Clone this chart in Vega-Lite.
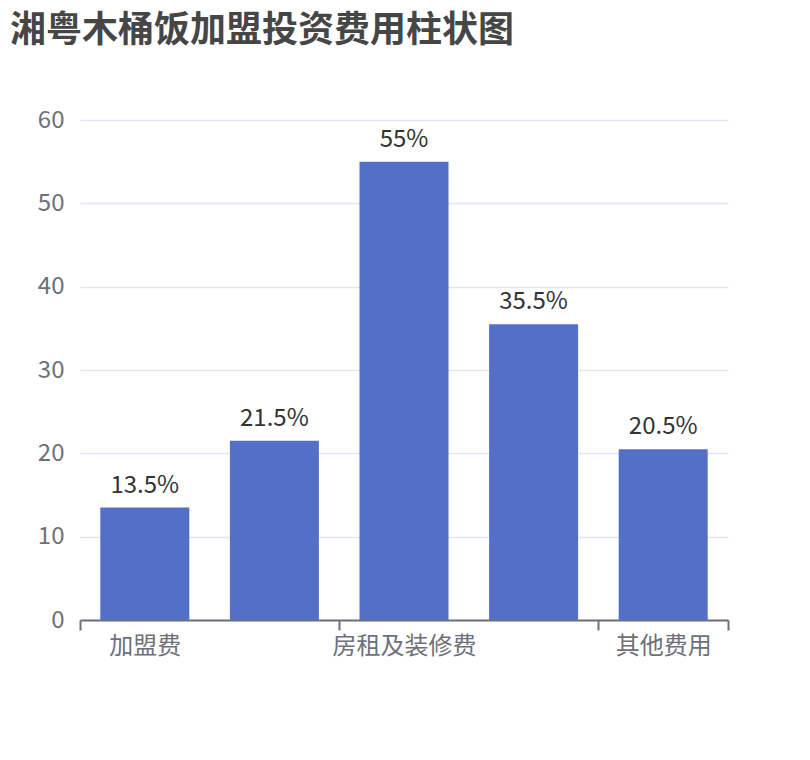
{
  "$schema": "https://vega.github.io/schema/vega-lite/v6.json",
  "autosize": "none",
  "width": 648,
  "height": 500,
  "padding": {"left": 80, "top": 120, "right": 82, "bottom": 140},
  "title": {
    "text": "湘粤木桶饭加盟投资费用柱状图",
    "anchor": "start",
    "frame": "group",
    "dx": -70,
    "offset": 58,
    "font": "Noto Sans CJK SC",
    "fontSize": 36,
    "fontWeight": "bold",
    "color": "#464646"
  },
  "config": {
    "view": {"stroke": null},
    "font": "Noto Sans CJK SC"
  },
  "data": {
    "values": [
      {"idx": 0, "item": "加盟费", "value": 13.5},
      {"idx": 1, "item": "设备费用", "value": 21.5},
      {"idx": 2, "item": "房租及装修费", "value": 55},
      {"idx": 3, "item": "人员工资", "value": 35.5},
      {"idx": 4, "item": "其他费用", "value": 20.5}
    ]
  },
  "transform": [
    {"calculate": "datum.value + '%'", "as": "label"}
  ],
  "encoding": {
    "x": {
      "field": "idx",
      "type": "quantitative",
      "scale": {"domain": [-0.5, 4.5], "nice": false, "zero": false, "padding": 0},
      "axis": {
        "title": null,
        "grid": false,
        "values": [-0.5, 1.5, 3.5, 4.5],
        "labelExpr": "datum.value == -0.5 ? '加盟费' : datum.value == 1.5 ? '房租及装修费' : datum.value == 3.5 ? '其他费用' : ''",
        "labelOffset": 64.8,
        "labelFlush": false,
        "labelOverlap": false,
        "labelFontSize": 24,
        "labelColor": "#6e7079",
        "labelPadding": 4,
        "domainColor": "#6e7079",
        "domainWidth": 2,
        "tickColor": "#6e7079",
        "tickWidth": 2,
        "tickSize": 10
      }
    },
    "y": {
      "field": "value",
      "type": "quantitative",
      "scale": {"domain": [0, 60], "nice": false},
      "axis": {
        "title": null,
        "values": [0, 10, 20, 30, 40, 50, 60],
        "domain": false,
        "ticks": false,
        "labelFontSize": 24,
        "labelColor": "#6e7079",
        "labelPadding": 16,
        "gridColor": "#e0e6f1",
        "gridWidth": 1.5
      }
    }
  },
  "layer": [
    {
      "mark": {"type": "bar", "size": 89, "color": "#5470c6"},
      "encoding": {
        "tooltip": [
          {"field": "item", "type": "nominal", "title": "项目"},
          {"field": "label", "type": "nominal", "title": "占比"}
        ]
      }
    },
    {
      "mark": {
        "type": "text",
        "baseline": "alphabetic",
        "dy": -15,
        "fontSize": 24,
        "color": "#333333"
      },
      "encoding": {
        "text": {"field": "label", "type": "nominal"}
      }
    }
  ]
}
